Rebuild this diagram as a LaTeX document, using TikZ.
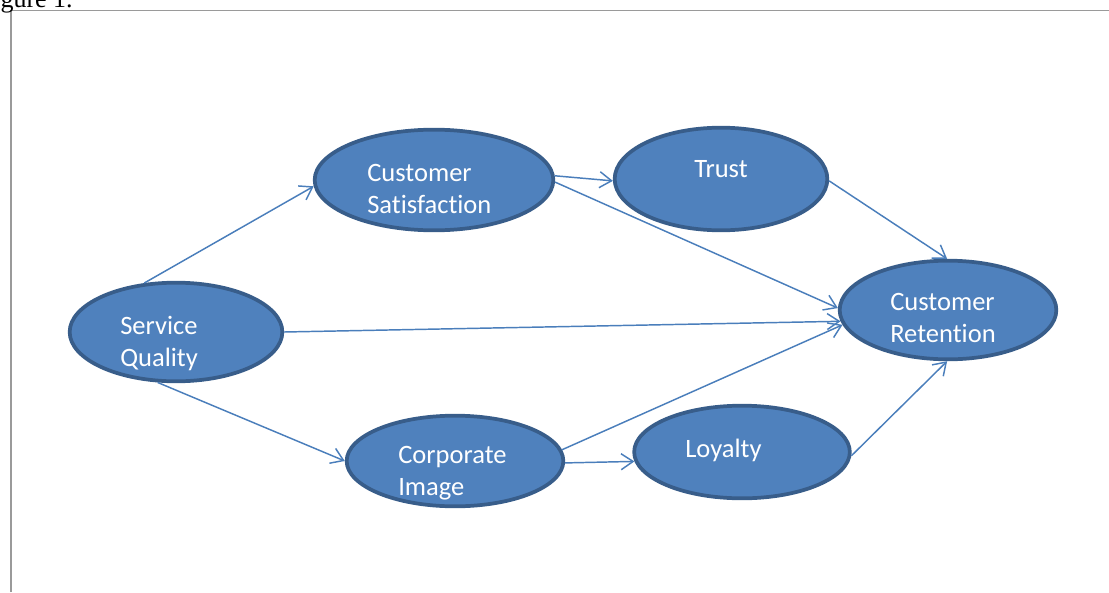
\documentclass[tikz,border=0pt]{standalone}
\usepackage{fontspec}
\setmainfont{Carlito}[Ligatures=NoCommon]
\newfontfamily\capfont{Liberation Serif}
\usetikzlibrary{shapes.geometric,arrows.meta}

\definecolor{ovalfill}{HTML}{4F81BD}
\definecolor{ovalline}{HTML}{385D8A}
\definecolor{linkcol}{HTML}{4A7EBB}
\definecolor{framecol}{HTML}{9A9A9A}

\begin{document}
\begin{tikzpicture}[x=0.75pt,y=-0.75pt,
  oval/.style={ellipse,draw=ovalline,fill=ovalfill,line width=2.8pt,inner sep=0pt},
  caption/.style={anchor=west,inner sep=0pt,align=left,text=white,
    font=\fontsize{19.9pt}{24pt}\selectfont},
  link/.style={draw=linkcol,line width=1.1pt,-{Straight Barb[length=9pt,width=12pt,line width=1.1pt]}}]

\useasboundingbox (0,0) rectangle (1109,592);

% Page frame
\draw[framecol,line width=1.2pt] (11,592) -- (11,10.5) -- (1109,10.5);
\node[anchor=base east,inner sep=0pt,font=\capfont\fontsize{19.5pt}{22pt}\selectfont] (fig) at (73,8) {gure 1.};

% Constructs
\node[oval,minimum width=159.5pt,minimum height=74pt] (sq) at (176,332) {};
\node[oval,minimum width=179pt,minimum height=75.5pt] (cs) at (434,180) {};
\node[oval,minimum width=159.5pt,minimum height=77pt] (tr) at (721,179) {};
\node[oval,minimum width=162.5pt,minimum height=74pt] (cr) at (948,310) {};
\node[oval,minimum width=162.5pt,minimum height=68pt] (ci) at (455,461) {};
\node[oval,minimum width=161.75pt,minimum height=69.5pt] (lo) at (742,452) {};

% Labels
\node[caption] (sqt) at ([xshift=-42pt,yshift=-8.6pt]sq.center) {Service\\Quality};
\node[caption] (cst) at ([xshift=-50.25pt,yshift=-6.4pt]cs.center) {Customer\\Satisfaction};
\node[caption] (trt) at ([xshift=-20.25pt,yshift=7.5pt]tr.center) {Trust};
\node[caption] (crt) at ([xshift=-43.5pt,yshift=-6pt]cr.center) {Customer\\Retention};
\node[caption] (cit) at ([xshift=-42.75pt,yshift=-9.4pt]ci.center) {Corporate\\Image};
\node[caption] (lot) at ([xshift=-42.75pt,yshift=1.5pt]lo.center) {Loyalty};

% Paths
\draw[link] (sq.123) -- (cs.183);
\draw[link] (cs.2) -- (tr.181);
\draw[link] (cs.359) -- (cr.179);
\draw[link] (tr.359) -- (cr.91);
\draw[link] (sq.0) -- (cr.186);
\draw[link] (sq.250) -- (ci.180);
\draw[link] (ci.6) -- (cr.188);
\draw[link] (ci.359) -- (lo.185);
\draw[link] (lo.358) -- (cr.269);

\end{tikzpicture}
\end{document}
